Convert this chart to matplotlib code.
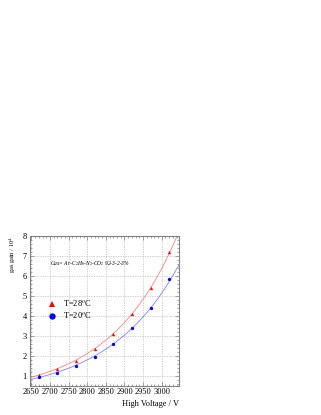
import numpy as np
import matplotlib
matplotlib.use("Agg")
import matplotlib.pyplot as plt
from matplotlib.ticker import MultipleLocator

# data
voltage = [2670, 2720, 2770, 2820, 2870, 2920, 2970, 3020]
gain_28 = [1.05, 1.35, 1.72, 2.35, 3.10, 4.10, 5.38, 7.20]
gain_20 = [0.95, 1.15, 1.47, 1.92, 2.58, 3.38, 4.40, 5.83]
labels = ["T=28$^{o}$C", "T=20$^{o}$C"]

plt.rcParams["font.family"] = ["Liberation Serif", "DejaVu Serif"]
plt.rcParams["mathtext.fontset"] = "stix"

fig = plt.figure(figsize=(3.21, 4.15), dpi=100)
ax = fig.add_axes([29.5 / 321, 1 - 385.5 / 415, 149 / 321, 149.5 / 415])

# exponential fits of each series
xx = np.linspace(2645, 3045, 200)
for g, col in [(gain_28, "#ff8080"), (gain_20, "#8080ff")]:
    p = np.polyfit(voltage, np.log(g), 1)
    ax.plot(xx, np.exp(np.polyval(p, xx)), color=col, lw=0.6)

ax.plot(voltage, gain_28, "^", color="red", ms=2.4, mew=0, label=labels[0], linestyle="none")
ax.plot(voltage, gain_20, "o", color="blue", ms=2.4, mew=0, label=labels[1], linestyle="none")

ax.set_xlim(2645, 3045)
ax.set_ylim(0.5, 8)
ax.xaxis.set_major_locator(MultipleLocator(50))
ax.xaxis.set_minor_locator(MultipleLocator(10))
ax.yaxis.set_major_locator(MultipleLocator(1))
ax.yaxis.set_minor_locator(MultipleLocator(0.2))
ax.tick_params(which="both", direction="in", top=True, right=True,
               labelsize=6, color="#808080", pad=2)
ax.tick_params(which="major", length=3, width=0.5)
ax.tick_params(which="minor", length=1.5, width=0.5)
for s in ax.spines.values():
    s.set_color("#808080")
    s.set_linewidth(0.8)
ax.grid(True, which="major", linestyle=(0, (2, 1.5)), color="#c0c0c0", lw=0.5)

ax.set_xlabel("High Voltage / V", fontsize=6, loc="right", labelpad=3)
ax.set_ylabel("gas gain / 10$^{4}$", fontsize=4.6, loc="top", labelpad=3)

ax.text(2700, 6.6, "Gas= Ar-C$_2$H$_6$-N$_2$-CO$_2$ 92-3-2-3%", fontsize=4,
        style="italic", va="center")

ax.legend(loc="upper left", bbox_to_anchor=(0.121, 0.579), frameon=False,
          fontsize=6, handletextpad=0.83, labelspacing=0.13, markerscale=1.9,
          handlelength=1.0, borderpad=0, borderaxespad=0)

fig.savefig("out.png", dpi=100)
